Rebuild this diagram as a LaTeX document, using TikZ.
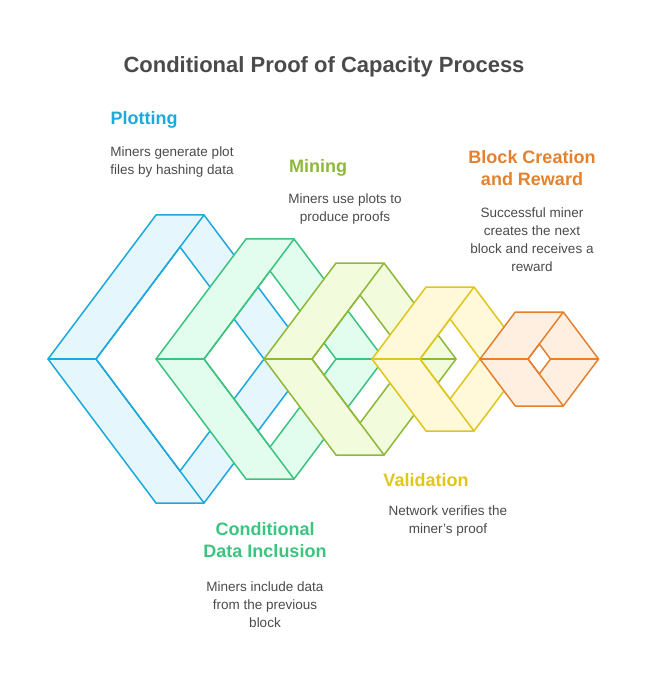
\documentclass[tikz,border=0pt]{standalone}
\usepackage{fontspec}
\setmainfont{Liberation Sans}
\definecolor{plotC}{HTML}{1EA8DB}\definecolor{plotF}{HTML}{E6F6FD}
\definecolor{inclC}{HTML}{3CC47F}\definecolor{inclF}{HTML}{E2FCEE}
\definecolor{mineC}{HTML}{8DB83A}\definecolor{mineF}{HTML}{F2FCDC}
\definecolor{valiC}{HTML}{E0C51B}\definecolor{valiF}{HTML}{FFF9DA}
\definecolor{blokC}{HTML}{E4812F}\definecolor{blokF}{HTML}{FFEFE0}
\definecolor{textC}{HTML}{4A4A4A}
% one ring: left x, half height, colour prefix
\newcommand{\Ring}[3]{%
  \pgfmathsetmacro\ringdx{0.75*#2}
  \pgfmathsetmacro\holeh{(2*\ringdx-48)/2*#2/\ringdx}
  \begin{scope}[shift={(#1,359)}]
    \filldraw[ring, draw=#3C, fill=#3F, even odd rule]
      (0,0) -- (\ringdx,-#2) -- (\ringdx+48,-#2) -- (2*\ringdx+48,0) -- (\ringdx+48,#2) -- (\ringdx,#2) -- cycle
      (48,0) -- (\ringdx+24,-\holeh) -- (2*\ringdx,0) -- (\ringdx+24,\holeh) -- cycle;
    \draw[ring, draw=#3C] (\ringdx+48,-#2) -- (48,0) -- (\ringdx+48,#2);
    \draw[ring, draw=#3C] (0,0) -- (48,0) (2*\ringdx,0) -- (2*\ringdx+48,0);
  \end{scope}}
\tikzset{ring/.style = {line width=1.5pt, line join=miter},
   head/.style = {font=\fontsize{18}{22}\selectfont\bfseries, align=center},
   desc/.style = {font=\fontsize{13.5}{18}\selectfont, text=textC, align=center}}
\begin{document}
\begin{tikzpicture}[x=1pt,y=-1pt]
\useasboundingbox (0,0) rectangle (648,684);
\node[font=\fontsize{22}{26}\selectfont\bfseries, text=textC] (title) at (324,67) {Conditional Proof of Capacity Process};

   \Ring{48}{144}{plot}
   \Ring{156}{120}{incl}
   \Ring{264}{96}{mine}
   \Ring{372}{72}{vali}
   \Ring{480}{47}{blok}

   \node[head, text=plotC] (plot) at (144,120) {Plotting};
   \node[desc] (plotd) at (172,162) {Miners generate plot\\files by hashing data};
   \node[head, text=mineC] (mine) at (318,168) {Mining};
   \node[desc] (mined) at (345,209) {Miners use plots to\\produce proofs};
   \node[head, text=blokC] (blok) at (532,168) {Block Creation\\and Reward};
   \node[desc] (blokd) at (532,240) {Successful miner\\creates the next\\block and receives a\\reward};
   \node[head, text=valiC] (vali) at (426,480) {Validation};
   \node[desc] (valid) at (448,521) {Network verifies the\\miner's proof};
   \node[head, text=inclC] (incl) at (265,540) {Conditional\\Data Inclusion};
   \node[desc] (incld) at (265,605) {Miners include data\\from the previous\\block};
\end{tikzpicture}
\end{document}
